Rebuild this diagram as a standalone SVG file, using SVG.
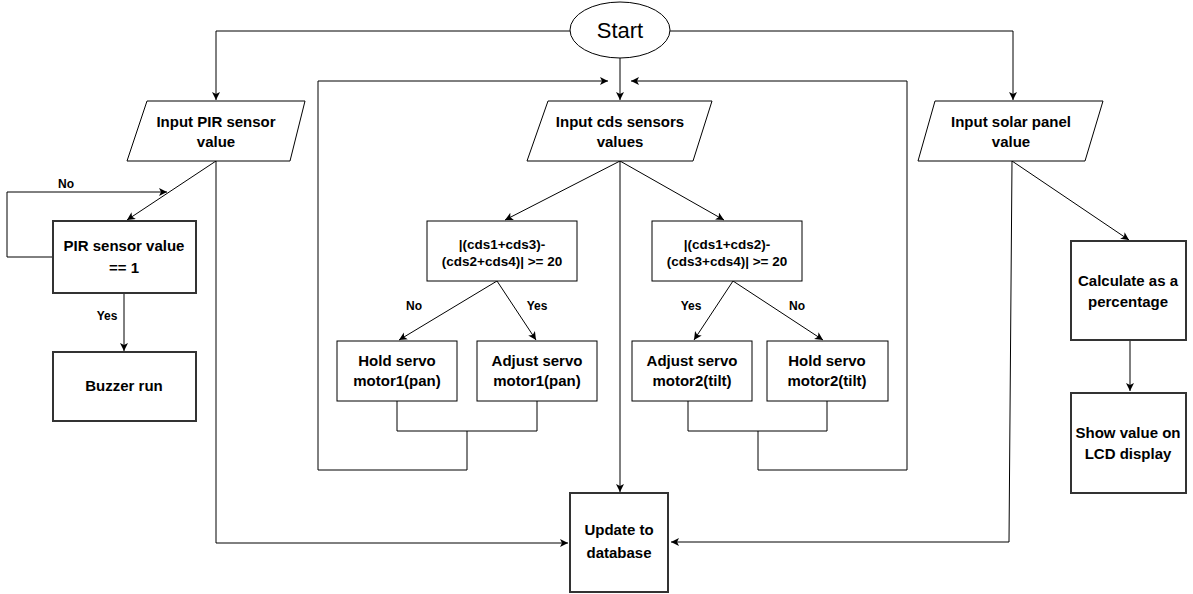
<svg xmlns="http://www.w3.org/2000/svg" width="1193" height="594" viewBox="0 0 1193 594">
<defs>
<marker id="ah" markerUnits="userSpaceOnUse" markerWidth="10" markerHeight="10" refX="8" refY="4" orient="auto">
<path d="M0,0 L8,4 L0,8 L2,4 z" fill="#000"/>
</marker>
<style>
.n{fill:#fff;stroke:#000;stroke-width:1}
.t{fill:#fff;stroke:#333;stroke-width:2}
.e{fill:none;stroke:#000;stroke-width:1}
.a{fill:none;stroke:#000;stroke-width:1;marker-end:url(#ah)}
text{font-family:"Liberation Sans",Arial,sans-serif;font-weight:bold;font-size:15px;text-anchor:middle;fill:#000}
.s{font-size:13.5px}
.l{font-size:12px}
.st{font-size:22px;font-weight:normal}
</style>
</defs>
<rect width="1193" height="594" fill="#fff"/>
<g id="connectors">
<path class="a" d="M570,31 H216 V100"/>
<path class="a" d="M670,31 H1013 V100"/>
<path class="a" d="M620,58 V100"/>
<path class="a" d="M216,161 L127,220"/>
<path class="a" d="M53,257 H7 V192 H167"/>
<path class="a" d="M124,293 V351"/>
<path class="a" d="M216,161 V543 H568"/>
<path class="a" d="M620,161 V492"/>
<path class="a" d="M1012,161 L1009,542 H671"/>
<path class="a" d="M1012,161 L1129,240"/>
<path class="a" d="M1130,340 V391"/>
<path class="a" d="M620,161 L505,220"/>
<path class="a" d="M620,161 L724,220"/>
<path class="a" d="M497,281 L399,340"/>
<path class="a" d="M497,281 L536,340"/>
<path class="a" d="M733,281 L694,340"/>
<path class="a" d="M733,281 L823,340"/>
<path class="e" d="M397,401 V431 H537 V401"/>
<path class="a" d="M467,431 V470 H318 V81 H608"/>
<path class="e" d="M688,401 V431 H827 V401"/>
<path class="a" d="M758,431 V470 H907 V81 H631"/>
<text class="l" x="66" y="188">No</text>
<text class="l" x="107" y="320">Yes</text>
<text class="l" x="414" y="310">No</text>
<text class="l" x="537" y="310">Yes</text>
<text class="l" x="691" y="310">Yes</text>
<text class="l" x="797" y="310">No</text>
</g>
<g id="start">
<ellipse cx="620" cy="30" rx="50" ry="28" class="n" stroke-width="1.5"/>
<text class="st" x="620" y="38">Start</text>
</g>
<g id="input-pir">
<path class="n" d="M147,101 H305 L290,161 H127 Z"/>
<text x="216" y="127">Input PIR sensor</text>
<text x="216" y="147">value</text>
</g>
<g id="pir-check">
<rect class="t" x="53" y="221" width="143" height="72"/>
<text x="124" y="251">PIR sensor value</text>
<text x="124" y="273">== 1</text>
</g>
<g id="buzzer">
<rect class="t" x="53" y="352" width="143" height="69"/>
<text x="124" y="391">Buzzer run</text>
</g>
<g id="input-cds">
<path class="n" d="M548,101 H712 L693,161 H527 Z"/>
<text x="620" y="127">Input cds sensors</text>
<text x="620" y="147">values</text>
</g>
<g id="decision-pan">
<rect class="n" x="427" y="221" width="150" height="60"/>
<text class="s" x="502" y="249">|(cds1+cds3)-</text>
<text class="s" x="502" y="266">(cds2+cds4)| &gt;= 20</text>
</g>
<g id="decision-tilt">
<rect class="n" x="652" y="221" width="150" height="60"/>
<text class="s" x="727" y="249">|(cds1+cds2)-</text>
<text class="s" x="727" y="266">(cds3+cds4)| &gt;= 20</text>
</g>
<g id="hold-pan">
<rect class="n" x="337" y="341" width="120" height="60"/>
<text x="397" y="366">Hold servo</text>
<text x="397" y="386">motor1(pan)</text>
</g>
<g id="adjust-pan">
<rect class="n" x="477" y="341" width="120" height="60"/>
<text x="537" y="366">Adjust servo</text>
<text x="537" y="386">motor1(pan)</text>
</g>
<g id="adjust-tilt">
<rect class="n" x="632" y="341" width="120" height="60"/>
<text x="692" y="366">Adjust servo</text>
<text x="692" y="386">motor2(tilt)</text>
</g>
<g id="hold-tilt">
<rect class="n" x="767" y="341" width="121" height="60"/>
<text x="827" y="366">Hold servo</text>
<text x="827" y="386">motor2(tilt)</text>
</g>
<g id="update-db">
<rect class="t" x="570" y="493" width="98" height="99"/>
<text x="619" y="535">Update to</text>
<text x="619" y="558">database</text>
</g>
<g id="input-solar">
<path class="n" d="M935,101 H1103 L1085,161 H918 Z"/>
<text x="1011" y="127">Input solar panel</text>
<text x="1011" y="147">value</text>
</g>
<g id="calculate">
<rect class="t" x="1071" y="241" width="115" height="99"/>
<text x="1128" y="286">Calculate as a</text>
<text x="1128" y="307">percentage</text>
</g>
<g id="show-lcd">
<rect class="t" x="1071" y="393" width="115" height="100"/>
<text x="1128" y="438">Show value on</text>
<text x="1128" y="459">LCD display</text>
</g>
</svg>
